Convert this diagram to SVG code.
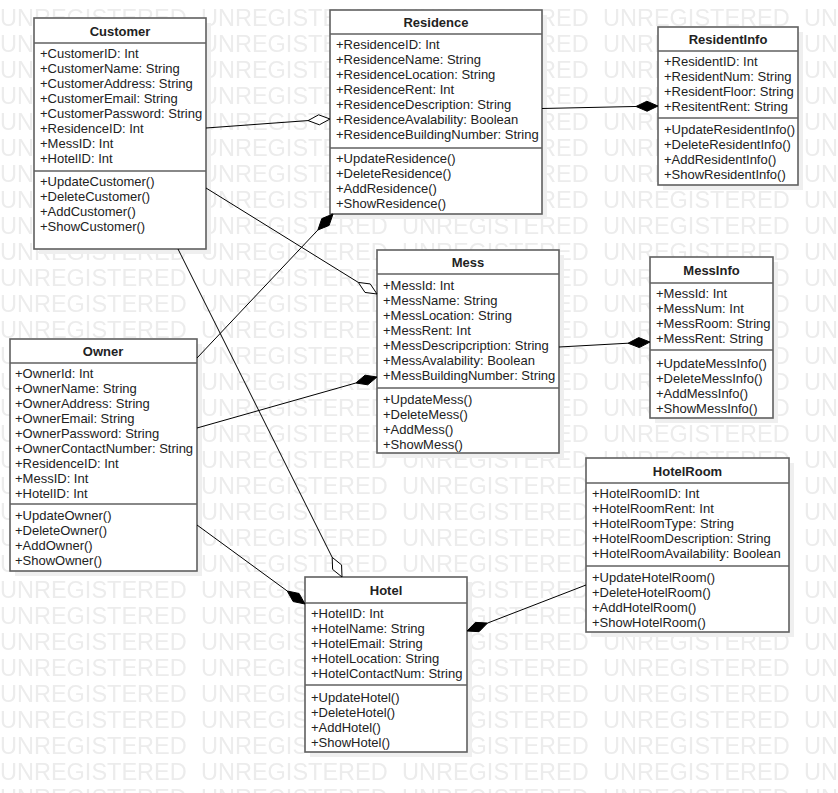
<svg xmlns="http://www.w3.org/2000/svg" width="838" height="793" viewBox="0 0 838 793">
<style>
.box{fill:#fff;stroke:#606060;stroke-width:1.6}
.sh{fill:#efefef}
.sep{stroke:#606060;stroke-width:1.6}
.t{font-family:"Liberation Sans",Arial,sans-serif;font-size:13px;fill:#222}
.h{font-family:"Liberation Sans",Arial,sans-serif;font-size:13px;font-weight:bold;fill:#222;text-anchor:middle}
.wm{font-family:"Liberation Sans",Arial,sans-serif;font-size:23.5px;fill:#ececec}
.ln{stroke:#000;stroke-width:1;fill:none}
.fd{fill:#000;stroke:#000;stroke-width:1}
.hd{fill:#fff;stroke:#000;stroke-width:1}
</style>
<defs>
<pattern id="wmp" x="0" y="9" width="201" height="26" patternUnits="userSpaceOnUse">
<text class="wm" x="0" y="17">UNREGISTERED</text>
</pattern>
</defs>
<rect width="838" height="793" fill="#fff"/>
<rect width="838" height="793" fill="url(#wmp)"/>

<g id="customer">
<rect class="sh" x="39" y="23" width="172" height="231"/>
<rect class="box" x="34" y="18" width="172" height="231"/>
<line class="sep" x1="34" y1="43" x2="206" y2="43"/>
<line class="sep" x1="34" y1="171" x2="206" y2="171"/>
<text class="h" x="120" y="35.5">Customer</text>
<text class="t" x="40" y="58">+CustomerID: Int</text>
<text class="t" x="40" y="73">+CustomerName: String</text>
<text class="t" x="40" y="88">+CustomerAddress: String</text>
<text class="t" x="40" y="103">+CustomerEmail: String</text>
<text class="t" x="40" y="118">+CustomerPassword: String</text>
<text class="t" x="40" y="133">+ResidenceID: Int</text>
<text class="t" x="40" y="148">+MessID: Int</text>
<text class="t" x="40" y="163">+HotelID: Int</text>
<text class="t" x="40" y="186">+UpdateCustomer()</text>
<text class="t" x="40" y="201">+DeleteCustomer()</text>
<text class="t" x="40" y="216">+AddCustomer()</text>
<text class="t" x="40" y="231">+ShowCustomer()</text>
</g>

<g id="residence">
<rect class="sh" x="335" y="15" width="212" height="204"/>
<rect class="box" x="330" y="10" width="212" height="204"/>
<line class="sep" x1="330" y1="34" x2="542" y2="34"/>
<line class="sep" x1="330" y1="148" x2="542" y2="148"/>
<text class="h" x="436" y="27">Residence</text>
<text class="t" x="336" y="49">+ResidenceID: Int</text>
<text class="t" x="336" y="64">+ResidenceName: String</text>
<text class="t" x="336" y="79">+ResidenceLocation: String</text>
<text class="t" x="336" y="94">+ResidenceRent: Int</text>
<text class="t" x="336" y="109">+ResidenceDescription: String</text>
<text class="t" x="336" y="124">+ResidenceAvalability: Boolean</text>
<text class="t" x="336" y="139">+ResidenceBuildingNumber: String</text>
<text class="t" x="336" y="163">+UpdateResidence()</text>
<text class="t" x="336" y="178">+DeleteResidence()</text>
<text class="t" x="336" y="193">+AddResidence()</text>
<text class="t" x="336" y="208">+ShowResidence()</text>
</g>

<g id="residentinfo">
<rect class="sh" x="663" y="32" width="140" height="158"/>
<rect class="box" x="658" y="27" width="140" height="158"/>
<line class="sep" x1="658" y1="51" x2="798" y2="51"/>
<line class="sep" x1="658" y1="118" x2="798" y2="118"/>
<text class="h" x="728" y="44">ResidentInfo</text>
<text class="t" x="664" y="66">+ResidentID: Int</text>
<text class="t" x="664" y="81">+ResidentNum: String</text>
<text class="t" x="664" y="96">+ResidentFloor: String</text>
<text class="t" x="664" y="111">+ResitentRent: String</text>
<text class="t" x="664" y="134">+UpdateResidentInfo()</text>
<text class="t" x="664" y="149">+DeleteResidentInfo()</text>
<text class="t" x="664" y="164">+AddResidentInfo()</text>
<text class="t" x="664" y="179">+ShowResidentInfo()</text>
</g>

<g id="owner">
<rect class="sh" x="15" y="344" width="187" height="232"/>
<rect class="box" x="10" y="339" width="187" height="232"/>
<line class="sep" x1="10" y1="363" x2="197" y2="363"/>
<line class="sep" x1="10" y1="504" x2="197" y2="504"/>
<text class="h" x="103" y="356">Owner</text>
<text class="t" x="15" y="378">+OwnerId: Int</text>
<text class="t" x="15" y="393">+OwnerName: String</text>
<text class="t" x="15" y="408">+OwnerAddress: String</text>
<text class="t" x="15" y="423">+OwnerEmail: String</text>
<text class="t" x="15" y="438">+OwnerPassword: String</text>
<text class="t" x="15" y="453">+OwnerContactNumber: String</text>
<text class="t" x="15" y="468">+ResidenceID: Int</text>
<text class="t" x="15" y="483">+MessID: Int</text>
<text class="t" x="15" y="498">+HotelID: Int</text>
<text class="t" x="15" y="520">+UpdateOwner()</text>
<text class="t" x="15" y="535">+DeleteOwner()</text>
<text class="t" x="15" y="550">+AddOwner()</text>
<text class="t" x="15" y="565">+ShowOwner()</text>
</g>

<g id="mess">
<rect class="sh" x="382" y="255" width="182" height="203"/>
<rect class="box" x="377" y="250" width="182" height="203"/>
<line class="sep" x1="377" y1="274" x2="559" y2="274"/>
<line class="sep" x1="377" y1="388" x2="559" y2="388"/>
<text class="h" x="468" y="267">Mess</text>
<text class="t" x="383" y="289.5">+MessId: Int</text>
<text class="t" x="383" y="304.5">+MessName: String</text>
<text class="t" x="383" y="319.5">+MessLocation: String</text>
<text class="t" x="383" y="334.5">+MessRent: Int</text>
<text class="t" x="383" y="349.5">+MessDescripcription: String</text>
<text class="t" x="383" y="364.5">+MessAvalability: Boolean</text>
<text class="t" x="383" y="379.5">+MessBuildingNumber: String</text>
<text class="t" x="383" y="404">+UpdateMess()</text>
<text class="t" x="383" y="419">+DeleteMess()</text>
<text class="t" x="383" y="434">+AddMess()</text>
<text class="t" x="383" y="449">+ShowMess()</text>
</g>

<g id="messinfo">
<rect class="sh" x="655" y="262" width="123" height="161"/>
<rect class="box" x="650" y="257" width="123" height="161"/>
<line class="sep" x1="650" y1="283" x2="773" y2="283"/>
<line class="sep" x1="650" y1="350" x2="773" y2="350"/>
<text class="h" x="711.5" y="275">MessInfo</text>
<text class="t" x="656" y="298">+MessId: Int</text>
<text class="t" x="656" y="313">+MessNum: Int</text>
<text class="t" x="656" y="328">+MessRoom: String</text>
<text class="t" x="656" y="343">+MessRent: String</text>
<text class="t" x="656" y="368">+UpdateMessInfo()</text>
<text class="t" x="656" y="383">+DeleteMessInfo()</text>
<text class="t" x="656" y="398">+AddMessInfo()</text>
<text class="t" x="656" y="413">+ShowMessInfo()</text>
</g>

<g id="hotelroom">
<rect class="sh" x="591" y="463" width="203" height="174"/>
<rect class="box" x="586" y="458" width="203" height="174"/>
<line class="sep" x1="586" y1="483" x2="789" y2="483"/>
<line class="sep" x1="586" y1="566" x2="789" y2="566"/>
<text class="h" x="687.5" y="476">HotelRoom</text>
<text class="t" x="592" y="498">+HotelRoomID: Int</text>
<text class="t" x="592" y="513">+HotelRoomRent: Int</text>
<text class="t" x="592" y="528">+HotelRoomType: String</text>
<text class="t" x="592" y="543">+HotelRoomDescription: String</text>
<text class="t" x="592" y="558">+HotelRoomAvailability: Boolean</text>
<text class="t" x="592" y="581.5">+UpdateHotelRoom()</text>
<text class="t" x="592" y="596.5">+DeleteHotelRoom()</text>
<text class="t" x="592" y="611.5">+AddHotelRoom()</text>
<text class="t" x="592" y="626.5">+ShowHotelRoom()</text>
</g>

<g id="hotel">
<rect class="sh" x="310" y="582" width="162" height="175"/>
<rect class="box" x="305" y="577" width="162" height="175"/>
<line class="sep" x1="305" y1="603" x2="467" y2="603"/>
<line class="sep" x1="305" y1="685" x2="467" y2="685"/>
<text class="h" x="386" y="595">Hotel</text>
<text class="t" x="311" y="618">+HotelID: Int</text>
<text class="t" x="311" y="633">+HotelName: String</text>
<text class="t" x="311" y="648">+HotelEmail: String</text>
<text class="t" x="311" y="663">+HotelLocation: String</text>
<text class="t" x="311" y="678">+HotelContactNum: String</text>
<text class="t" x="311" y="701.5">+UpdateHotel()</text>
<text class="t" x="311" y="716.5">+DeleteHotel()</text>
<text class="t" x="311" y="731.5">+AddHotel()</text>
<text class="t" x="311" y="746.5">+ShowHotel()</text>
</g>

<g id="connectors">
<line class="ln" x1="206" y1="128" x2="308.06" y2="120.59"/>
<polygon class="hd" points="330,119 319.39,124.79 308.06,120.59 318.67,114.81"/>
<line class="ln" x1="542" y1="108.5" x2="636" y2="106.47"/>
<polygon class="fd" points="658,106 647.11,111.24 636,106.47 646.89,101.24"/>
<line class="ln" x1="206" y1="188" x2="358.3" y2="282.41"/>
<polygon class="hd" points="377,294 370.28,283.95 358.3,282.41 365.02,292.45"/>
<line class="ln" x1="197" y1="358" x2="317.89" y2="229.99"/>
<polygon class="fd" points="333,214 329.08,225.43 317.89,229.99 321.81,218.57"/>
<line class="ln" x1="197" y1="428" x2="355.83" y2="383"/>
<polygon class="fd" points="377,377 367.78,384.81 355.83,383 365.05,375.19"/>
<line class="ln" x1="197" y1="525" x2="287.24" y2="591.01"/>
<polygon class="fd" points="305,604 299.07,593.47 287.24,591.01 293.17,601.55"/>
<line class="ln" x1="178" y1="249" x2="332.16" y2="557.32"/>
<polygon class="hd" points="342,577 341.55,564.92 332.16,557.32 332.61,569.4"/>
<line class="ln" x1="559" y1="347" x2="628.03" y2="343.21"/>
<polygon class="fd" points="650,342 639.29,347.59 628.03,343.21 638.74,337.61"/>
<line class="ln" x1="586" y1="585" x2="487.52" y2="623.07"/>
<polygon class="fd" points="467,631 479.06,631.69 487.52,623.07 475.46,622.37"/>
</g>
</svg>
